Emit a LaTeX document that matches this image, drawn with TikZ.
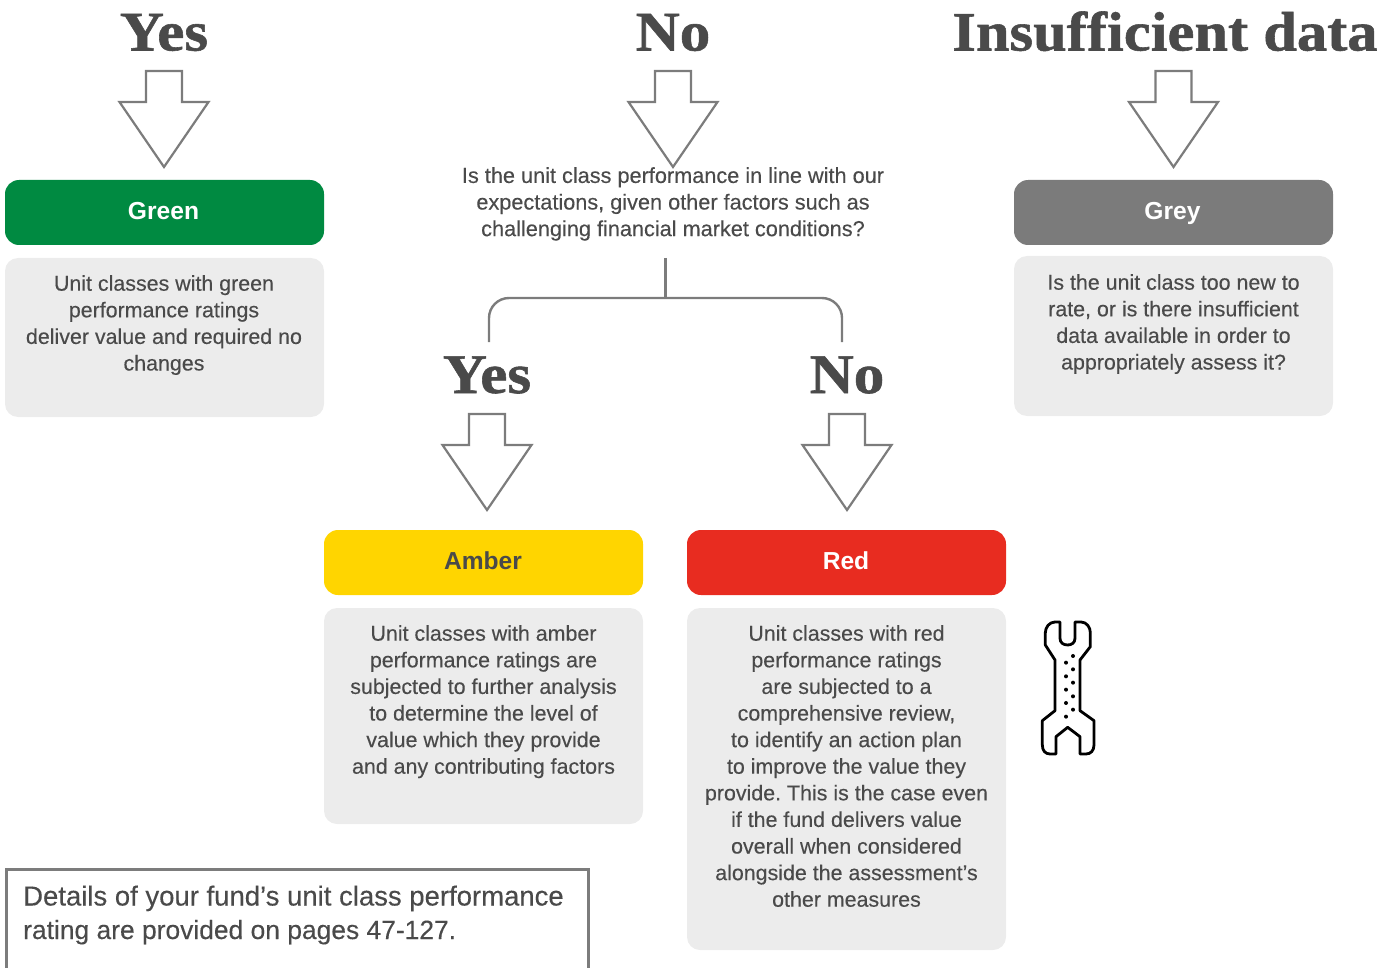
\documentclass[tikz,border=0pt]{standalone}
\usepackage{fontspec}
\setmainfont{Liberation Sans}[FakeBold=0.25]
\newfontfamily\headfont{Liberation Serif Bold}[FakeStretch=1.09,FakeBold=1.0]
\newfontfamily\barfont{Liberation Sans Bold}
\definecolor{txt}{HTML}{4A4A4A}
\definecolor{linegrey}{HTML}{7C7C7C}
\definecolor{panel}{HTML}{ECECEC}
\definecolor{cgreen}{HTML}{008A41}
\definecolor{cgrey}{HTML}{7B7B7B}
\definecolor{camber}{HTML}{FFD500}
\definecolor{cred}{HTML}{E82C20}
\newcommand{\blockarrow}[2]{% tip x, top y
  \draw[arrowshape] (#1-18,#2) -- (#1+18,#2) -- (#1+18,#2+31) -- (#1+44.5,#2+31) -- (#1,#2+96) -- (#1-44.5,#2+31) -- (#1-18,#2+31) -- cycle;}
\newcommand{\rrect}[6]{% name, x1,y1,x2,y2, style
  \node[#6, minimum width=#4pt-#2pt, minimum height=#5pt-#3pt] (#1) at ({(#2+#4)/2},{(#3+#5)/2}) {};}
\tikzset{
  x=1pt, y=-1pt,
  arrowshape/.style={draw=linegrey, line width=2.2pt, fill=white, miter limit=10},
  head/.style={font=\headfont\fontsize{56}{60}\selectfont, text=txt, inner sep=0pt, anchor=base},
  body/.style={font=\frenchspacing\fontsize{21.4}{26.6}\selectfont, text=txt, align=center, inner sep=0pt, anchor=base},
  panelbox/.style={rectangle, rounded corners=13pt, fill=panel, inner sep=0pt},
  title/.style={rectangle, rounded corners=14pt, inner sep=0pt},
  titletext/.style={font=\barfont\fontsize{24.6}{30}\selectfont, inner sep=0pt, anchor=base},
  tree/.style={draw=linegrey, line width=2.4pt},
}
\begin{document}
\begin{tikzpicture}
\useasboundingbox (0,0) rectangle (1394,968);
% headings
\node[head] (h1) at (164,50.5) {Yes};
\node[head] (h2) at (673,50.5) {No};
\node[head, font=\headfont\fontsize{55.5}{60}\selectfont] (h3) at (1165,50.5) {Insufficient data};
\node[head] (h4) at (487,393) {Yes};
\node[head] (h5) at (847,393) {No};
% title bars
\rrect{green}{5}{180}{324}{245}{title, fill=cgreen}
\rrect{grey}{1014}{180}{1333}{245}{title, fill=cgrey}
\rrect{amber}{324}{530}{643}{595}{title, fill=camber}
\rrect{red}{687}{530}{1006}{595}{title, fill=cred}
\node[titletext, text=white] (tg) at (163.5,220) {Green};
\node[titletext, text=white] (tgr) at (1172.5,220) {Grey};
\node[titletext, text=txt] (ta) at (483,569.5) {Amber};
\node[titletext, text=white] (tr) at (846,569.5) {Red};
% panels
\rrect{pgreen}{5}{258}{324}{417}{panelbox}
\rrect{pgrey}{1014}{256}{1333}{416}{panelbox}
\rrect{pamber}{324}{608}{643}{824}{panelbox}
\rrect{pred}{687}{608}{1006}{950}{panelbox}
% arrows
\blockarrow{164}{71}
\blockarrow{673}{71}
\blockarrow{1173.5}{71}
\blockarrow{487}{414}
\blockarrow{847}{414}
% texts
\node[body, anchor=north, font=\frenchspacing\fontsize{21.7}{26.6}\selectfont] (q) at (673,167) {Is the unit class performance in line with our\\expectations, given other factors such as\\challenging financial market conditions?};
\node[body, anchor=north] (b1) at (164,275) {Unit classes with green\\performance ratings\\deliver value and required no\\changes};
\node[body, anchor=north] (b2) at (1173.5,274) {Is the unit class too new to\\rate, or is there insufficient\\data available in order to\\appropriately assess it?};
\node[body, anchor=north] (b3) at (483.5,625) {Unit classes with amber\\performance ratings are\\subjected to further analysis\\to determine the level of\\value which they provide\\and any contributing factors};
\node[body, anchor=north] (b4) at (846.5,625) {Unit classes with red\\performance ratings\\are subjected to a\\comprehensive review,\\to identify an action plan\\to improve the value they\\provide. This is the case even\\if the fund delivers value\\overall when considered\\alongside the assessment’s\\other measures};
% tree
\coordinate (t0) at (665.5,258);
\coordinate (tm) at (665.5,298);
\coordinate (tl) at (489,342);
\coordinate (tr) at (842,342);
\draw[tree] (t0) -- (tm);
\draw[tree, rounded corners=20pt] (tl) |- (tm) -| (tr);
% note
\coordinate (n1) at (6,968);
\coordinate (n2) at (588.5,968);
\draw[draw=linegrey, line width=3pt] (n1) |- (588.5,869.5) -- (n2);
\node[anchor=base west, inner sep=0pt, text=txt, font=\fontsize{27.5}{33.5}\selectfont] (note) at (23,905.5) {Details of your fund’s unit class performance};
\node[anchor=base west, inner sep=0pt, text=txt, font=\fontsize{26.4}{33.5}\selectfont] (note2) at (23,939) {rating are provided on pages 47-127.};
% wrench
\begin{scope}[shift={(1020,600)}, x=0.3333pt, y=-0.3333pt]
\draw[black, line width=2.8pt, line join=round, line cap=round]
 (120,66) -- (105,66) .. controls (88,66) and (76,82) .. (76,98) -- (76,135) -- (105,180) -- (105,332) -- (67,362) -- (67,435) .. controls (67,452) and (76,462) .. (90,462) -- (108,462) -- (108,410) -- (143,382) -- (180,410) -- (180,462) -- (198,462) .. controls (212,462) and (222,452) .. (222,435) -- (222,362) -- (180,332) -- (180,180) -- (211,140) -- (211,98) .. controls (211,82) and (200,66) .. (183,66) -- (165,66) -- (165,115) .. controls (165,128) and (155,135) .. (143,135) .. controls (130,135) and (120,128) .. (120,115) -- cycle;
\foreach \px/\py in {159/168,138/188,159/208,138/229,159/248,138/269,159/289,138/309,159/329,138/350}
  \fill[black] (\px,\py) circle[radius=6];
\end{scope}
\end{tikzpicture}
\end{document}
